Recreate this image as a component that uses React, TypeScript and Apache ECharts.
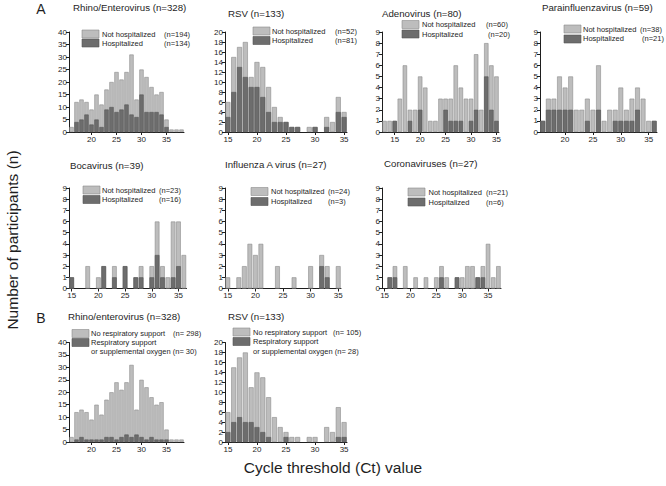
import React, { useEffect, useRef } from "react";
import * as echarts from "echarts";

const FONT = '"Liberation Sans", Arial, Helvetica, sans-serif';
const INK = "#1e1e1e";
const LIGHT = "#bdbdbd";
const LIGHT_EDGE = "#8c8c8c";
const DARK = "#6d6d6d";
const DARK_EDGE = "#545454";

// Rhino/Enterovirus (A and B share the Ct distribution)
const rhinoCt = [16, 17, 18, 19, 20, 21, 22, 23, 24, 25, 26, 27, 28, 29, 30, 31, 32, 33, 34, 35, 36, 37, 38];
const rhinoTotal = [2, 12, 13, 12, 9, 15, 11, 17, 20, 24, 21, 24, 31, 13, 25, 22, 18, 15, 16, 5, 1, 1, 1];
const rhinoHosp = [0, 4, 5, 7, 3, 5, 2, 9, 10, 8, 9, 11, 7, 6, 15, 8, 8, 8, 7, 2, 0, 0, 0];
const rhinoSupport = [0, 1, 2, 1, 1, 1, 1, 2, 2, 1, 2, 3, 2, 3, 2, 1, 2, 1, 1, 1, 0, 0, 0];

// RSV
const rsvCt = [15, 16, 17, 18, 19, 20, 21, 22, 23, 24, 25, 26, 27, 28, 29, 30, 31, 32, 33, 34, 35];
const rsvTotal = [6, 15, 17, 18, 11, 14, 13, 9, 5, 3, 2, 1, 1, 0, 1, 1, 0, 3, 2, 7, 4];
const rsvHosp = [3, 8, 13, 11, 9, 9, 7, 4, 2, 2, 2, 1, 1, 0, 0, 1, 0, 1, 0, 4, 3];
const rsvSupport = [2, 4, 5, 4, 4, 3, 2, 1, 0, 0, 1, 0, 0, 0, 0, 0, 0, 0, 0, 1, 1];

// Adenovirus
const adenoCt = [13, 14, 15, 16, 17, 18, 19, 20, 21, 22, 23, 24, 25, 26, 27, 28, 29, 30, 31, 32, 33, 34, 35];
const adenoTotal = [1, 1, 1, 3, 6, 2, 2, 5, 4, 1, 1, 3, 3, 3, 6, 4, 3, 3, 7, 2, 8, 6, 5];
const adenoHosp = [0, 0, 1, 0, 0, 1, 0, 2, 0, 0, 0, 0, 2, 1, 1, 1, 0, 1, 2, 0, 5, 2, 1];

// Parainfluenzavirus
const paraCt = [16, 17, 18, 19, 20, 21, 22, 23, 24, 25, 26, 27, 28, 29, 30, 31, 32, 33, 34, 35, 36];
const paraTotal = [1, 3, 3, 5, 4, 5, 2, 2, 3, 2, 6, 1, 2, 2, 4, 2, 3, 4, 3, 1, 1];
const paraHosp = [1, 2, 2, 2, 2, 2, 0, 0, 1, 0, 2, 0, 0, 1, 1, 1, 1, 2, 0, 0, 1];

// Bocavirus
const bocaCt = [15, 18, 20, 21, 23, 25, 27, 28, 30, 31, 32, 33, 34, 35, 36];
const bocaTotal = [1, 2, 1, 2, 2, 2, 1, 2, 2, 6, 2, 1, 6, 6, 3];
const bocaHosp = [1, 0, 0, 2, 1, 2, 1, 1, 1, 3, 1, 0, 1, 2, 0];

// Influenza A virus
const fluCt = [15, 17, 18, 19, 20, 21, 24, 27, 30, 32, 33, 35];
const fluTotal = [1, 1, 2, 4, 3, 4, 2, 1, 2, 3, 2, 2];
const fluHosp = [0, 0, 0, 0, 0, 0, 0, 0, 0, 2, 1, 0];

// Coronaviruses
const coronaCt = [16, 17, 19, 21, 23, 25, 26, 27, 29, 30, 31, 32, 33, 34, 35, 36, 37];
const coronaTotal = [1, 2, 2, 1, 1, 1, 2, 1, 1, 1, 2, 2, 1, 2, 4, 1, 2];
const coronaHosp = [1, 1, 0, 0, 0, 0, 1, 0, 1, 0, 0, 0, 1, 1, 0, 0, 0];

const ticksFrom20 = [20, 25, 30, 35];
const ticksFrom15 = [15, 20, 25, 30, 35];

type LegendText = [string, number, number];
type Panel = {
  title: string;
  titlePos: [number, number];
  ct: number[];
  total: number[];
  dark: number[];
  grid: [number, number, number, number];
  xRange: [number, number];
  xTicks: number[];
  yMax: number;
  yStep: number;
  swatch: [number, number, number];
  texts: LegendText[];
};

const panels: Panel[] = [
  {
    title: "Rhino/Enterovirus (n=328)", titlePos: [73, 7],
    ct: rhinoCt, total: rhinoTotal, dark: rhinoHosp,
    grid: [69, 32, 115, 100], xRange: [15.5, 38.5], xTicks: ticksFrom20, yMax: 40, yStep: 5,
    swatch: [82, 30, 39],
    texts: [["Not hospitalized", 102, 34], ["(n=194)", 164, 34], ["Hospitalized", 102, 43], ["(n=134)", 164, 43]],
  },
  {
    title: "RSV (n=133)", titlePos: [228, 13],
    ct: rsvCt, total: rsvTotal, dark: rsvHosp,
    grid: [225, 32, 122, 100], xRange: [14.5, 35.5], xTicks: ticksFrom15, yMax: 20, yStep: 2,
    swatch: [253, 27, 36.5],
    texts: [["Not hospitalized", 272, 31.5], ["(n=52)", 335, 31.5], ["Hospitalized", 272, 40.5], ["(n=81)", 335, 40.5]],
  },
  {
    title: "Adenovirus (n=80)", titlePos: [382, 13],
    ct: adenoCt, total: adenoTotal, dark: adenoHosp,
    grid: [382, 32, 117, 100], xRange: [12.5, 35.5], xTicks: ticksFrom15, yMax: 9, yStep: 1,
    swatch: [402, 20.5, 30],
    texts: [["Not hospitalized", 422, 24.5], ["(n=60)", 486, 24.5], ["Hospitalized", 422, 34], ["(n=20)", 488, 34]],
  },
  {
    title: "Parainfluenzavirus (n=59)", titlePos: [542, 7],
    ct: paraCt, total: paraTotal, dark: paraHosp,
    grid: [540, 32, 117, 100], xRange: [15.5, 36.5], xTicks: ticksFrom20, yMax: 9, yStep: 1,
    swatch: [564, 25, 35],
    texts: [["Not hospitalized", 583, 29], ["(n=38)", 640, 29], ["Hospitalized", 583, 38.5], ["(n=21)", 642, 38.5]],
  },
  {
    title: "Bocavirus (n=39)", titlePos: [70, 165],
    ct: bocaCt, total: bocaTotal, dark: bocaHosp,
    grid: [69, 188, 117.5, 100.5], xRange: [14.5, 36.5], xTicks: ticksFrom15, yMax: 9, yStep: 1,
    swatch: [83, 186, 195.5],
    texts: [["Not hospitalized", 102, 190], ["(n=23)", 159, 190], ["Hospitalized", 102, 199.5], ["(n=16)", 159, 199.5]],
  },
  {
    title: "Influenza A virus (n=27)", titlePos: [225, 164],
    ct: fluCt, total: fluTotal, dark: fluHosp,
    grid: [225, 188, 116, 100.5], xRange: [14.5, 35.5], xTicks: ticksFrom15, yMax: 9, yStep: 1,
    swatch: [251, 187.5, 197.5],
    texts: [["Not hospitalized", 271, 191.7], ["(n=24)", 328, 191.7], ["Hospitalized", 271, 201.7], ["(n=3)", 328, 201.7]],
  },
  {
    title: "Coronaviruses (n=27)", titlePos: [384, 163],
    ct: coronaCt, total: coronaTotal, dark: coronaHosp,
    grid: [382, 188, 119, 100.5], xRange: [14.5, 37.5], xTicks: ticksFrom15, yMax: 9, yStep: 1,
    swatch: [408, 188, 198],
    texts: [["Not hospitalized", 428.5, 192.3], ["(n=21)", 486, 192.3], ["Hospitalized", 428.5, 202], ["(n=6)", 486, 202]],
  },
  {
    title: "Rhino/enterovirus (n=328)", titlePos: [68, 316],
    ct: rhinoCt, total: rhinoTotal, dark: rhinoSupport,
    grid: [69, 342.5, 115, 99.5], xRange: [15.5, 38.5], xTicks: ticksFrom20, yMax: 40, yStep: 5,
    swatch: [72, 329.5, 338.5],
    texts: [["No respiratory support", 91, 333], ["(n= 298)", 173, 333], ["Respiratory support", 91, 342], ["or supplemental oxygen (n= 30)", 91, 351]],
  },
  {
    title: "RSV (n=133)", titlePos: [228, 316],
    ct: rsvCt, total: rsvTotal, dark: rsvSupport,
    grid: [225, 342.5, 122, 99.5], xRange: [14.5, 35.5], xTicks: ticksFrom15, yMax: 20, yStep: 2,
    swatch: [233, 328, 337.5],
    texts: [["No respiratory support", 253, 332.7], ["(n= 105)", 333, 332.7], ["Respiratory support", 253, 341.7], ["or supplemental oxygen (n= 28)", 253, 351]],
  },
];

function pairs(ct: number[], vals: number[]) {
  return ct.map((c, k) => [c, vals[k]]).filter((d) => d[1] > 0);
}

function buildOption() {
  const axisLine = { show: true, onZero: false, lineStyle: { color: INK, width: 1 } };
  const labelBase = { fontSize: 8, color: INK, fontFamily: FONT };

  const grid = panels.map((p) => ({
    left: p.grid[0], top: p.grid[1], width: p.grid[2], height: p.grid[3], containLabel: false,
  }));

  const xAxis = panels.map((p, i) => ({
    type: "value", gridIndex: i, min: p.xRange[0], max: p.xRange[1],
    splitLine: { show: false },
    axisLine,
    axisTick: { show: true, length: 3, customValues: p.xTicks, lineStyle: { color: INK } },
    axisLabel: { ...labelBase, margin: 3, customValues: p.xTicks },
  }));

  const yAxis = panels.map((p, i) => ({
    type: "value", gridIndex: i, min: 0, max: p.yMax, interval: p.yStep,
    splitLine: { show: false },
    axisLine,
    axisTick: { show: true, length: 3, lineStyle: { color: INK } },
    axisLabel: { ...labelBase, margin: 2 },
  }));

  const series: any[] = [];
  panels.forEach((p, i) => {
    const pitch = p.grid[2] / (p.xRange[1] - p.xRange[0]);
    const barWidth = pitch * 0.86;
    series.push({
      type: "bar", xAxisIndex: i, yAxisIndex: i, barWidth, barGap: "-100%", silent: true,
      data: pairs(p.ct, p.total),
      itemStyle: { color: LIGHT, borderColor: LIGHT_EDGE, borderWidth: 0.6 },
    });
    series.push({
      type: "bar", xAxisIndex: i, yAxisIndex: i, barWidth, barGap: "-100%", silent: true,
      data: pairs(p.ct, p.dark),
      itemStyle: { color: DARK, borderColor: DARK_EDGE, borderWidth: 0.6 },
    });
  });

  const graphic: any[] = [];
  panels.forEach((p) => {
    graphic.push({
      type: "text", x: p.titlePos[0], y: p.titlePos[1],
      style: { text: p.title, fontSize: 9.7, fontFamily: FONT, fill: INK, textAlign: "left", textVerticalAlign: "middle" },
    });
    const [sx, ly, dy] = p.swatch;
    graphic.push({
      type: "rect", shape: { x: sx, y: ly, width: 17, height: 8 },
      style: { fill: LIGHT, stroke: LIGHT_EDGE, lineWidth: 0.6 },
    });
    graphic.push({
      type: "rect", shape: { x: sx, y: dy, width: 17, height: 8 },
      style: { fill: DARK, stroke: DARK_EDGE, lineWidth: 0.6 },
    });
    p.texts.forEach(([t, x, y]) => {
      graphic.push({
        type: "text", x, y,
        style: { text: t, fontSize: 7.5, fontFamily: FONT, fill: INK, textAlign: "left", textVerticalAlign: "middle" },
      });
    });
  });

  graphic.push({
    type: "text", x: 41, y: 9,
    style: { text: "A", fontSize: 14, fontFamily: FONT, fill: INK, textAlign: "center", textVerticalAlign: "middle" },
  });
  graphic.push({
    type: "text", x: 41, y: 318,
    style: { text: "B", fontSize: 14, fontFamily: FONT, fill: INK, textAlign: "center", textVerticalAlign: "middle" },
  });
  graphic.push({
    type: "text", x: 12, y: 240, rotation: Math.PI / 2,
    style: { text: "Number of participants (n)", fontSize: 15.5, fontFamily: FONT, fill: INK, textAlign: "center", textVerticalAlign: "middle" },
  });
  graphic.push({
    type: "text", x: 333, y: 467,
    style: { text: "Cycle threshold (Ct) value", fontSize: 15.5, fontFamily: FONT, fill: INK, textAlign: "center", textVerticalAlign: "middle" },
  });

  return {
    animation: false,
    backgroundColor: "#ffffff",
    textStyle: { fontFamily: FONT },
    grid,
    xAxis,
    yAxis,
    series,
    graphic,
  };
}

export default function App() {
  const ref = useRef<HTMLDivElement>(null);
  useEffect(() => {
    if (!ref.current) return;
    const chart = echarts.init(ref.current, null, { renderer: "svg" });
    chart.setOption(buildOption() as any);
    return () => chart.dispose();
  }, []);
  return (
    <div
      ref={ref}
      style={{ position: "absolute", left: 0, top: 0, width: 666, height: 486 }}
    />
  );
}
